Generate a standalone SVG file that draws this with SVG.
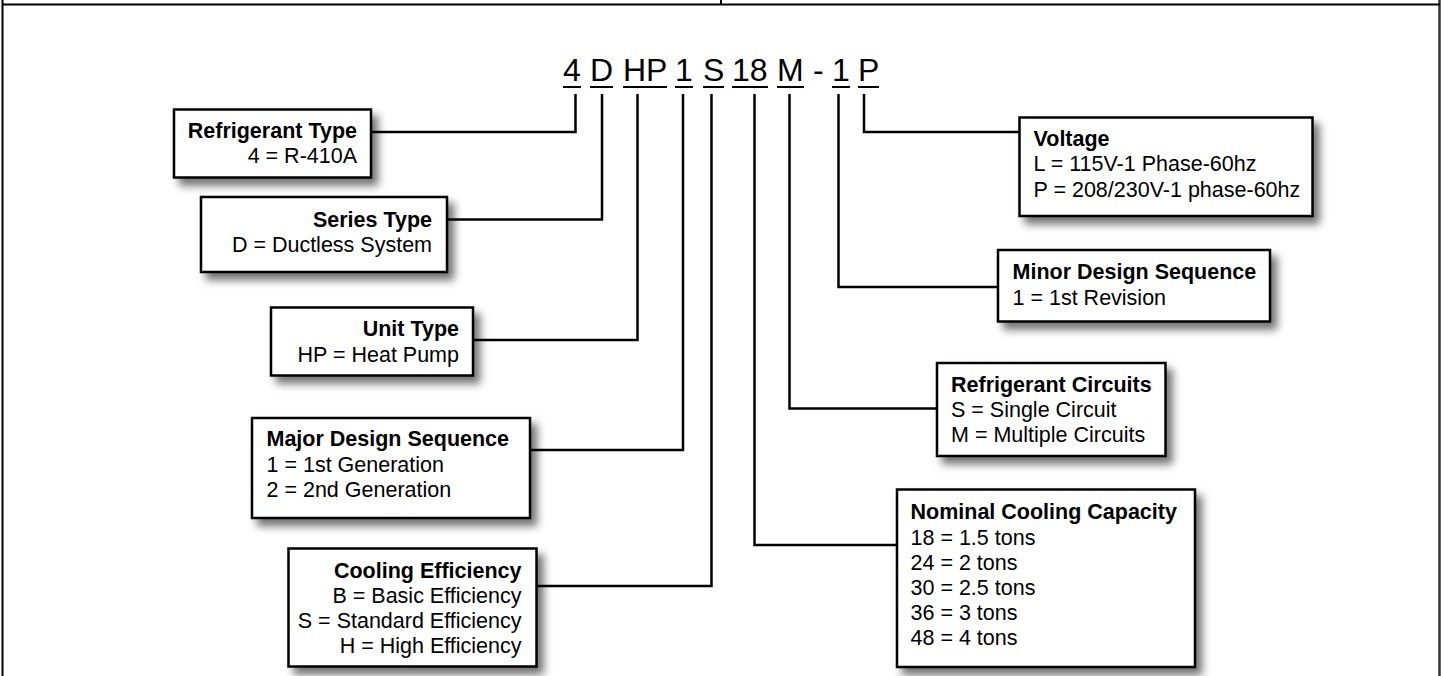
<svg xmlns="http://www.w3.org/2000/svg" width="1442" height="676" viewBox="0 0 1442 676">
<defs>
<filter id="sh" x="-10%" y="-10%" width="130%" height="140%">
<feDropShadow dx="6" dy="7" stdDeviation="4" flood-color="#000" flood-opacity="0.55"/>
</filter>
<style>
.box{fill:#fff;stroke:#000;stroke-width:2.5;filter:url(#sh)}
.t{font-family:"Liberation Sans",Arial,sans-serif;font-size:21.5px;fill:#000}
.b{font-weight:bold}
.r{text-anchor:end}
.code{font-family:"Liberation Sans",Arial,sans-serif;font-size:32px;fill:#000}
.ul{stroke:#000;stroke-width:2}
.con{fill:none;stroke:#000;stroke-width:2.5}
.frame{stroke:#000;stroke-width:2;fill:none}
</style>
</defs>
<rect width="1442" height="676" fill="#fff"/>
<g id="frame">
<line class="frame" x1="2.5" y1="0" x2="2.5" y2="676"/>
<line class="frame" x1="1439.5" y1="0" x2="1439.5" y2="676" style="stroke:#333;stroke-width:2.5"/>
<line class="frame" x1="2" y1="4.5" x2="1440" y2="4.5"/>
<line class="frame" x1="721" y1="0" x2="721" y2="4"/>
</g>
<g id="code">
<text class="code" x="563" y="81">4</text>
<text class="code" x="590" y="81">D</text>
<text class="code" x="623" y="81">HP</text>
<text class="code" x="675" y="81">1</text>
<text class="code" x="703" y="81">S</text>
<text class="code" x="732" y="81">18</text>
<text class="code" x="777" y="81">M</text>
<text class="code" x="813" y="81">-</text>
<text class="code" x="832" y="81">1</text>
<text class="code" x="858" y="81">P</text>
<line class="ul" x1="563" y1="87" x2="581" y2="87"/>
<line class="ul" x1="590" y1="87" x2="613" y2="87"/>
<line class="ul" x1="623" y1="87" x2="667" y2="87"/>
<line class="ul" x1="675" y1="87" x2="693" y2="87"/>
<line class="ul" x1="703" y1="87" x2="724" y2="87"/>
<line class="ul" x1="732" y1="87" x2="768" y2="87"/>
<line class="ul" x1="777" y1="87" x2="804" y2="87"/>
<line class="ul" x1="832" y1="87" x2="850" y2="87"/>
<line class="ul" x1="858" y1="87" x2="879" y2="87"/>
</g>
<g id="connectors">
<path class="con" d="M371,132 H575.5 V94"/>
<path class="con" d="M447,219.5 H602 V94"/>
<path class="con" d="M473,340 H637.5 V94"/>
<path class="con" d="M530,450 H683 V94"/>
<path class="con" d="M537,586 H711.5 V94"/>
<path class="con" d="M1019,132 H864 V94"/>
<path class="con" d="M998,287 H838.5 V94"/>
<path class="con" d="M937,408.5 H789.5 V94"/>
<path class="con" d="M897,545 H754.5 V94"/>
</g>
<g id="refrigerant-type">
<rect class="box" x="174" y="109.5" width="197" height="68"/>
<text class="t b r" x="357" y="138">Refrigerant Type</text>
<text class="t r" x="357" y="163">4 = R-410A</text>
</g>
<g id="series-type">
<rect class="box" x="201" y="197" width="246" height="75"/>
<text class="t b r" x="432" y="227">Series Type</text>
<text class="t r" x="432" y="252">D = Ductless System</text>
</g>
<g id="unit-type">
<rect class="box" x="271" y="307.5" width="202" height="68"/>
<text class="t b r" x="459" y="336">Unit Type</text>
<text class="t r" x="459" y="362">HP = Heat Pump</text>
</g>
<g id="major-design">
<rect class="box" x="252" y="418" width="278" height="100"/>
<text class="t b" x="266.5" y="446">Major Design Sequence</text>
<text class="t" x="266.5" y="472">1 = 1st Generation</text>
<text class="t" x="266.5" y="497">2 = 2nd Generation</text>
</g>
<g id="cooling-efficiency">
<rect class="box" x="288.5" y="548.5" width="248" height="118"/>
<text class="t b r" x="521.5" y="578">Cooling Efficiency</text>
<text class="t r" x="521.5" y="603">B = Basic Efficiency</text>
<text class="t r" x="521.5" y="628">S = Standard Efficiency</text>
<text class="t r" x="521.5" y="653">H = High Efficiency</text>
</g>
<g id="voltage">
<rect class="box" x="1019.5" y="117.5" width="293" height="98.5"/>
<text class="t b" x="1033.5" y="146">Voltage</text>
<text class="t" x="1033.5" y="171">L = 115V-1 Phase-60hz</text>
<text class="t" x="1033.5" y="197">P = 208/230V-1 phase-60hz</text>
</g>
<g id="minor-design">
<rect class="box" x="998" y="250" width="272" height="71.5"/>
<text class="t b" x="1012.5" y="279">Minor Design Sequence</text>
<text class="t" x="1012.5" y="305">1 = 1st Revision</text>
</g>
<g id="refrigerant-circuits">
<rect class="box" x="937" y="363" width="228.5" height="93"/>
<text class="t b" x="951" y="392">Refrigerant Circuits</text>
<text class="t" x="951" y="417">S = Single Circuit</text>
<text class="t" x="951" y="442">M = Multiple Circuits</text>
</g>
<g id="nominal-capacity">
<rect class="box" x="897" y="489.5" width="298" height="177.5"/>
<text class="t b" x="910.5" y="519">Nominal Cooling Capacity</text>
<text class="t" x="910.5" y="545">18 = 1.5 tons</text>
<text class="t" x="910.5" y="570">24 = 2 tons</text>
<text class="t" x="910.5" y="595">30 = 2.5 tons</text>
<text class="t" x="910.5" y="620">36 = 3 tons</text>
<text class="t" x="910.5" y="645">48 = 4 tons</text>
</g>
</svg>
